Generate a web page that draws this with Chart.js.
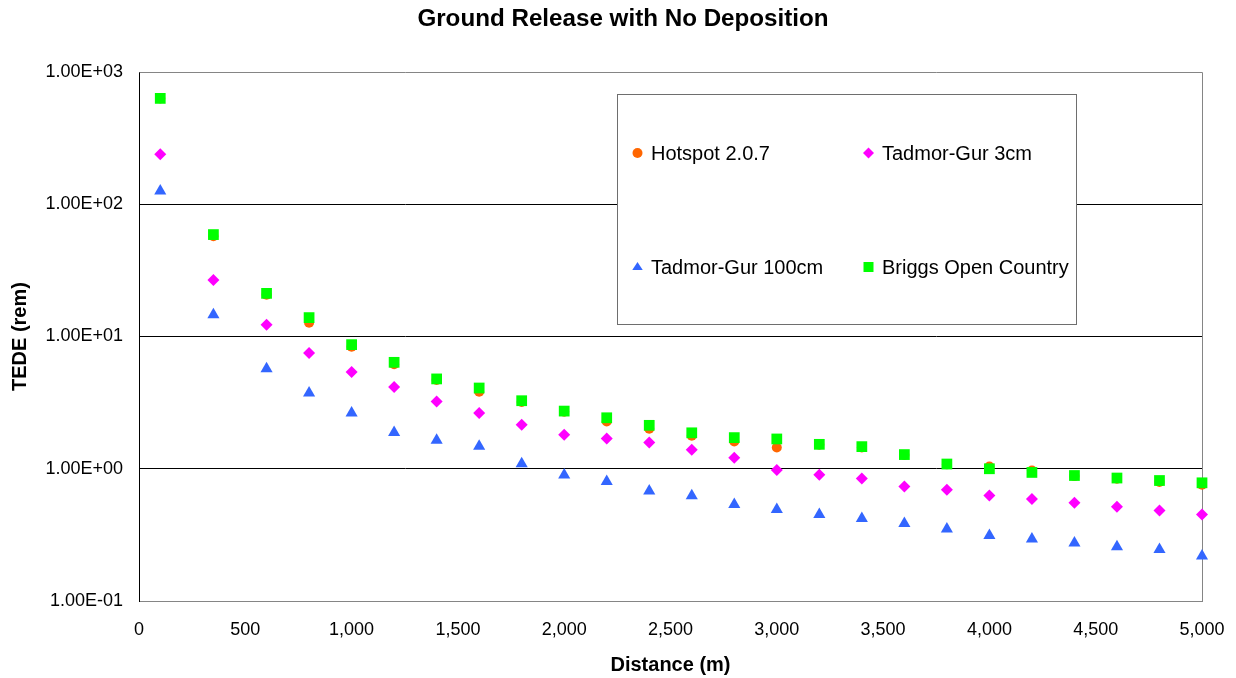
<!DOCTYPE html>
<html>
<head>
<meta charset="utf-8">
<script src="https://cdn.jsdelivr.net/npm/chart.js@4.4.1/dist/chart.umd.min.js"></script>
<style>
  html, body { margin: 0; padding: 0; background: #ffffff; }
  #wrap { width: 1236px; height: 678px; }
</style>
</head>
<body>
<div id="wrap"><canvas id="c" width="1236" height="678"></canvas></div>
<script>
// ---- data ----
const chartTitle = 'Ground Release with No Deposition';
const xAxisTitle = 'Distance (m)';
const yAxisTitle = 'TEDE (rem)';
const distances = [100, 350, 600, 800, 1000, 1200, 1400, 1600, 1800, 2000, 2200, 2400, 2600,
                   2800, 3000, 3200, 3400, 3600, 3800, 4000, 4200, 4400, 4600, 4800, 5000];
const seriesNames = ['Hotspot 2.0.7', 'Tadmor-Gur 3cm', 'Tadmor-Gur 100cm', 'Briggs Open Country'];
const hotspot = [630, 57.4, 20.7, 12.7, 8.38, 6.18, 4.70, 3.83, 3.20, 2.70, 2.28, 2.01, 1.78,
                 1.61, 1.45, 1.52, 1.45, 1.27, 1.08, 1.04, 0.97, 0.88, 0.84, 0.793, 0.757];
const tadmor3 = [239, 26.8, 12.3, 7.51, 5.40, 4.15, 3.23, 2.64, 2.15, 1.81, 1.69, 1.58, 1.39,
                 1.21, 0.98, 0.901, 0.845, 0.735, 0.693, 0.628, 0.590, 0.553, 0.516, 0.483, 0.451];
const tadmor100 = [126, 14.6, 5.71, 3.74, 2.64, 1.88, 1.64, 1.48, 1.09, 0.896, 0.80, 0.68, 0.625,
                   0.537, 0.492, 0.451, 0.421, 0.385, 0.351, 0.313, 0.294, 0.274, 0.257, 0.245, 0.219];
const briggs = [632, 59.0, 21.2, 13.9, 8.68, 6.38, 4.78, 4.08, 3.27, 2.73, 2.43, 2.13, 1.87,
                1.72, 1.68, 1.53, 1.47, 1.28, 1.086, 1.0, 0.938, 0.889, 0.851, 0.815, 0.783];
const xTickValues = [0, 500, 1000, 1500, 2000, 2500, 3000, 3500, 4000, 4500, 5000];
const yTickValues = [0.1, 1, 10, 100, 1000];

// ---- styles ----
const FONT = '"Liberation Sans", Arial, Helvetica, sans-serif';
const styles = [
  { color: '#FF6600', pointStyle: 'circle',   radius: 5,   order: 1 },
  { color: '#FF00FF', pointStyle: 'rectRot',  radius: 6,   order: 2 },
  { color: '#3366FF', pointStyle: 'triangle', radius: 7,   order: 3 },
  { color: '#00FF00', pointStyle: 'rect',     radius: 7.6, order: 0 }
];
const seriesValues = [hotspot, tadmor3, tadmor100, briggs];

const datasets = seriesValues.map((vals, i) => ({
  label: seriesNames[i],
  data: distances.map((d, j) => ({ x: d, y: vals[j] })),
  backgroundColor: styles[i].color,
  borderColor: styles[i].color,
  pointStyle: styles[i].pointStyle,
  pointRadius: styles[i].radius,
  pointHoverRadius: styles[i].radius,
  pointBorderWidth: 0,
  showLine: false,
  order: styles[i].order,
  clip: false
}));

function fmtExp(v) {
  const e = Math.round(Math.log10(v));
  const m = v / Math.pow(10, e);
  return m.toFixed(2) + 'E' + (e < 0 ? '-' : '+') + String(Math.abs(e)).padStart(2, '0');
}

function drawMarker(ctx, style, x, y, r, color) {
  ctx.save();
  ctx.fillStyle = color;
  ctx.beginPath();
  if (style === 'circle') {
    ctx.arc(x, y, r, 0, Math.PI * 2);
  } else if (style === 'rectRot') {
    ctx.moveTo(x - r, y); ctx.lineTo(x, y - r); ctx.lineTo(x + r, y); ctx.lineTo(x, y + r);
    ctx.closePath();
  } else if (style === 'triangle') {
    const h = r * 0.866;
    ctx.moveTo(x, y - r * 0.9); ctx.lineTo(x + h * 1.1, y + r * 0.55); ctx.lineTo(x - h * 1.1, y + r * 0.55);
    ctx.closePath();
  } else {
    ctx.rect(x - r, y - r, 2 * r, 2 * r);
  }
  ctx.fill();
  ctx.restore();
}

// plot-area frame (gray) drawn under the points
const framePlugin = {
  id: 'frame',
  beforeDatasetsDraw(chart) {
    const a = chart.chartArea, ctx = chart.ctx;
    ctx.save();
    ctx.strokeStyle = '#858585';
    ctx.lineWidth = 1;
    ctx.beginPath();
    ctx.moveTo(Math.round(a.left) + 0.5, Math.round(a.top) + 0.5);
    ctx.lineTo(Math.round(a.right) + 0.5, Math.round(a.top) + 0.5);
    ctx.lineTo(Math.round(a.right) + 0.5, Math.round(a.bottom) + 0.5);
    ctx.stroke();
    ctx.restore();
  }
};

// legend box as in the reference: 2 x 2 grid inside a framed box
const boxLegendPlugin = {
  id: 'boxLegend',
  afterDatasetsDraw(chart) {
    const ctx = chart.ctx;
    const bx = 617.5, by = 94.5, bw = 459, bh = 230;
    ctx.save();
    ctx.fillStyle = '#ffffff';
    ctx.fillRect(bx, by, bw, bh);
    ctx.strokeStyle = '#6e6e6e';
    ctx.lineWidth = 1;
    ctx.strokeRect(bx, by, bw, bh);
    const cols = [637.5, 868.5];
    const rows = [153, 267];
    const legendR = [5, 5.5, 5.5, 5];
    chart.data.datasets.forEach((ds, i) => {
      const cx = cols[i % 2], cy = rows[Math.floor(i / 2)];
      drawMarker(ctx, ds.pointStyle, cx, cy, legendR[i], ds.backgroundColor);
      ctx.fillStyle = '#000000';
      ctx.font = '20px ' + FONT;
      ctx.textBaseline = 'middle';
      ctx.textAlign = 'left';
      ctx.fillText(ds.label, cx + 13.5, cy + 1);
    });
    ctx.restore();
  }
};

new Chart(document.getElementById('c'), {
  type: 'scatter',
  data: { datasets },
  plugins: [framePlugin, boxLegendPlugin],
  options: {
    responsive: false,
    animation: false,
    events: [],
    layout: { padding: { left: 44, right: 34, top: 0, bottom: 0 } },
    plugins: {
      legend: { display: false },
      tooltip: { enabled: false },
      title: {
        display: true,
        text: chartTitle,
        color: '#000000',
        font: { family: FONT, size: 24.2, weight: 'bold', lineHeight: 1.2 },
        padding: { top: 5, bottom: 38 }
      }
    },
    scales: {
      x: {
        type: 'linear',
        min: 0, max: 5000,
        afterFit(scale) { scale.height = 77; scale.paddingLeft = 0; scale.paddingRight = 0; },
        afterBuildTicks(scale) { scale.ticks = xTickValues.map(v => ({ value: v })); },
        grid: { display: false, drawTicks: false },
        border: { display: true, color: '#858585', width: 1 },
        ticks: {
          color: '#000000',
          padding: 18,
          maxRotation: 0,
          font: { family: FONT, size: 18 },
          callback: v => Number(v).toLocaleString('en-US')
        },
        title: {
          display: true,
          text: xAxisTitle,
          color: '#000000',
          font: { family: FONT, size: 20, weight: 'bold', lineHeight: 1.2 },
          padding: { top: 0, bottom: 1 }
        }
      },
      y: {
        type: 'logarithmic',
        min: 0.1, max: 1000,
        afterFit(scale) { scale.width = 95; },
        afterBuildTicks(scale) { scale.ticks = yTickValues.map(v => ({ value: v })); },
        grid: {
          drawTicks: false,
          color: ctx => (ctx.tick && (ctx.tick.value === 1000 || ctx.tick.value === 0.1)) ? 'rgba(0,0,0,0)' : '#000000',
          lineWidth: 1
        },
        border: { display: true, color: '#000000', width: 1 },
        ticks: {
          color: '#000000',
          padding: 16,
          font: { family: FONT, size: 18 },
          callback: v => fmtExp(v)
        },
        title: {
          display: true,
          text: yAxisTitle,
          color: '#000000',
          font: { family: FONT, size: 20, weight: 'bold', lineHeight: 1.2 },
          padding: { top: -36, bottom: 0 }
        }
      }
    }
  }
});
</script>
</body>
</html>
